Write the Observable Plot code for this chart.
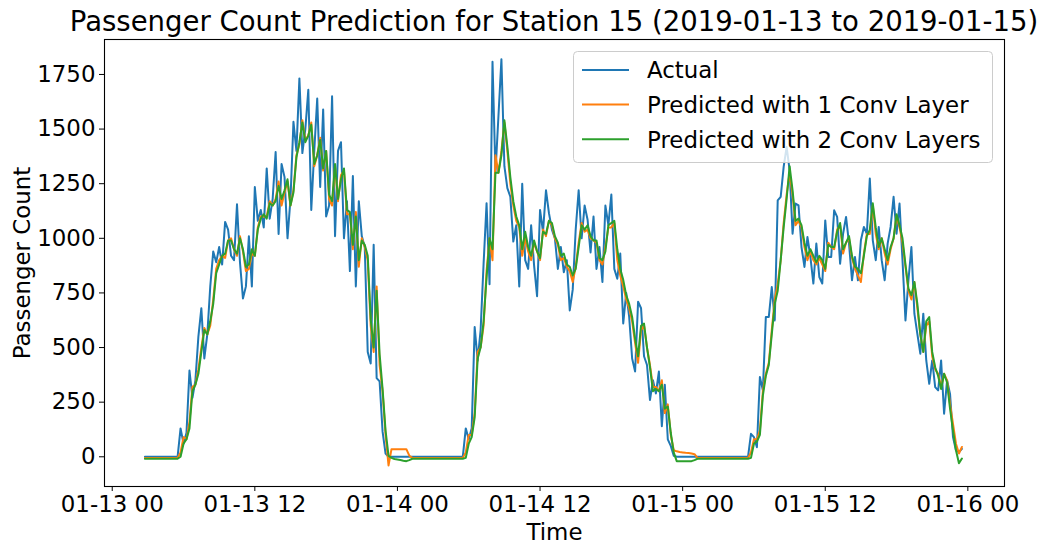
<!DOCTYPE html>
<html>
<head>
<meta charset="utf-8">
<script src="https://cdn.jsdelivr.net/npm/d3@7"></script>
<script src="https://cdn.jsdelivr.net/npm/@observablehq/plot@0.6"></script>
<style>
html, body { margin: 0; padding: 0; background: #fff; }
#chart { width: 1043px; height: 543px; }
</style>
</head>
<body>
<div id="chart"></div>
<script>
// ---- data (15-minute samples starting 2019-01-13 02:45 UTC) ----
const startTime = "2019-01-13T02:45:00Z";
const stepMinutes = 15;

const titleText = "Passenger Count Prediction for Station 15 (2019-01-13 to 2019-01-15)";
const seriesNames = ["Actual", "Predicted with 1 Conv Layer", "Predicted with 2 Conv Layers"];
const seriesColors = ["#1f77b4", "#ff7f0e", "#2ca02c"];
const yTicks = [0, 250, 500, 750, 1000, 1250, 1500, 1750];
const xTicks = ["2019-01-13T00:00Z", "2019-01-13T12:00Z", "2019-01-14T00:00Z", "2019-01-14T12:00Z",
                "2019-01-15T00:00Z", "2019-01-15T12:00Z", "2019-01-16T00:00Z"];
const xDomain = ["2019-01-12T23:21:00Z", "2019-01-16T03:05:00Z"];
const yDomain = [-136, 1910];

const actual = [
  0,0,0,0,0,0,0,0,0,0,0,0,
  130,60,110,395,270,350,550,680,450,560,780,940,890,960,880,1075,1040,920,900,1156,
  890,725,780,1010,780,1235,1080,1130,1050,1320,1090,1180,1395,1020,1340,1280,1000,1180,1533,1400,
  1732,1390,1500,1680,1130,1400,1640,1235,1590,1100,1150,1650,1010,1400,1440,1000,1170,850,1285,780,
  1170,1010,960,480,427,970,360,345,115,15,
  0,0,0,0,0,0,0,0,0,0,0,0,0,0,0,0,0,0,0,0,0,0,0,0,0,0,
  130,80,130,594,440,580,884,1160,790,1808,1300,1560,1820,1330,1230,1190,985,1060,780,1250,
  900,860,1060,875,735,1130,1030,1220,1115,1040,1000,860,960,845,900,670,765,1040,1220,1000,
  1150,1085,935,1100,860,960,800,1150,1060,1200,860,815,930,610,750,640,450,390,710,680,
  460,420,260,350,290,390,140,330,80,50,5,
  0,0,0,0,0,0,0,0,0,0,0,0,0,0,0,0,0,0,0,0,0,0,0,0,0,
  105,90,44,365,304,640,640,777,624,1174,1190,1327,1418,1312,1021,1159,1151,960,869,1006,
  915,793,976,823,793,1082,915,915,1128,1098,884,1021,1098,976,808,915,808,991,1052,1021,
  1274,991,900,1052,900,808,976,1052,1190,1021,1159,900,624,808,960,655,563,472,655,441,
  334,441,319,304,441,197,350,288,90,29,21,36
];

const pred1 = [
  -5,-5,-5,-5,-5,-5,-5,-5,-5,-5,-5,-5,
  20,90,80,160,320,330,400,500,590,560,600,720,860,900,920,910,990,1000,950,920,
  1010,940,850,860,930,920,1050,1100,1100,1100,1170,1150,1180,1260,1150,1210,1260,1150,1220,1380,
  1430,1540,1450,1470,1530,1330,1380,1460,1310,1400,1180,1150,1330,1170,1290,1310,1110,1110,950,1120,
  870,1000,960,900,600,480,780,420,300,100,
  -40,35,35,35,35,35,35,5,-5,-5,-5,-5,-5,-5,-5,-5,-5,-5,-5,-5,-5,-5,-5,-5,-5,-5,
  20,100,100,200,480,500,600,850,1000,900,1380,1300,1400,1530,1400,1250,1150,1080,1050,920,
  1000,940,900,980,940,900,1040,1010,1080,1060,1000,970,900,910,870,850,800,870,980,1070,
  1030,1040,1000,990,980,900,880,960,1050,1050,1070,900,830,780,720,680,620,520,430,580,
  600,500,420,320,320,300,350,200,240,100,30,
  25,22,20,18,17,15,12,-5,-5,-5,-5,-5,-5,-5,-5,-5,-5,-5,-5,-5,-5,-5,-5,-5,-5,
  20,80,80,120,300,380,430,580,720,790,900,1070,1200,1300,1200,1060,1080,1050,960,900,
  940,900,880,910,880,850,980,960,950,1040,1060,930,980,1000,910,860,830,800,930,1020,
  1020,1150,1020,950,1000,930,880,950,1000,1100,1050,980,870,760,720,800,680,560,480,600,
  620,460,400,380,320,380,350,240,150,60,15,45
];

const pred2 = [
  -9,-9,-9,-9,-9,-9,-9,-9,-9,-9,-9,-9,
  0,60,80,130,300,330,380,480,580,560,620,700,840,880,920,930,990,990,950,930,
  1000,950,870,880,950,920,1040,1090,1110,1090,1160,1150,1170,1240,1180,1220,1270,1150,1210,1370,
  1440,1530,1440,1470,1520,1340,1380,1450,1320,1400,1200,1170,1340,1180,1270,1320,1130,1120,970,1100,
  900,990,970,920,630,500,760,470,310,120,
  5,-5,-10,-12,-15,-18,-20,-15,-9,-9,-9,-9,-9,-9,-9,-9,-9,-9,-9,-9,-9,-9,-9,-9,-9,-9,
  -5,60,90,180,450,500,620,820,1000,950,1300,1300,1380,1540,1420,1280,1170,1100,1060,950,
  1030,960,920,990,940,910,1030,1020,1080,1070,1010,980,920,930,880,870,830,860,960,1060,
  1040,1060,1010,990,990,910,900,940,1060,1070,1080,950,860,810,740,700,640,540,460,600,
  610,500,410,300,310,300,330,220,230,110,20,
  -20,-20,-20,-20,-20,-20,-15,-9,-9,-9,-9,-9,-9,-9,-9,-9,-9,-9,-9,-9,-9,-9,-9,-9,-9,
  -5,60,70,100,280,370,420,560,700,760,900,1050,1180,1330,1220,1080,1090,1060,980,920,
  950,920,890,920,900,860,970,960,960,1030,1070,950,980,1010,920,870,860,840,920,1010,
  1040,1160,1050,960,1000,950,900,960,1000,1110,1060,1000,880,770,740,800,700,560,480,620,
  640,480,410,370,310,380,340,220,120,30,-30,-8
];

// ---- build table ----
const t0 = Date.parse(startTime);
const rows = actual.map((v, i) => ({
  t: new Date(t0 + i * stepMinutes * 60000),
  actual: v,
  pred1: pred1[i],
  pred2: pred2[i]
}));
const keys = ["actual", "pred1", "pred2"];

const FONT = "DejaVu Sans";
const FS = 22.9;

const chart = Plot.plot({
  width: 1043,
  height: 543,
  marginLeft: 104,
  marginRight: 39,
  marginTop: 39,
  marginBottom: 57,
  style: { fontFamily: FONT, fontSize: FS + "px", color: "black", background: "white", overflow: "visible" },
  x: {
    type: "utc",
    domain: xDomain.map(d => new Date(d)),
    ticks: xTicks.map(d => new Date(d)),
    tickFormat: d3.utcFormat("%m-%d %H"),
    tickSize: 5,
    tickPadding: 4,
    label: null
  },
  y: {
    domain: yDomain,
    ticks: yTicks,
    tickFormat: d => String(d),
    tickSize: 5,
    tickPadding: 4,
    label: null
  },
  marks: [
    ...keys.map((k, j) => Plot.line(rows, { x: "t", y: k, stroke: seriesColors[j], strokeWidth: 2 })),
    Plot.frame({ stroke: "black", strokeWidth: 1.1 }),
    Plot.text(["Passenger Count"], { frameAnchor: "left", text: d => d, rotate: -90, dx: -82,
      textAnchor: "middle", lineAnchor: "middle", fontSize: FS, fill: "black" }),
    Plot.text(["Time"], { frameAnchor: "bottom", text: d => d, dy: 46,
      textAnchor: "middle", lineAnchor: "middle", fontSize: FS, fill: "black" })
  ]
});

const svg = d3.select(chart);
// title
svg.append("text")
  .attr("x", 554).attr("y", 31)
  .attr("text-anchor", "middle")
  .attr("font-family", FONT)
  .attr("font-size", 27.5)
  .attr("fill", "black")
  .text(titleText);

// legend
const lg = svg.append("g");
lg.append("rect")
  .attr("x", 573.5).attr("y", 51.5).attr("width", 419).attr("height", 111)
  .attr("rx", 4).attr("fill", "white").attr("fill-opacity", 0.8)
  .attr("stroke", "#cccccc").attr("stroke-width", 1);
seriesNames.forEach((name, k) => {
  const cy = 70 + k * 34.6;
  lg.append("line")
    .attr("x1", 582).attr("x2", 629).attr("y1", cy).attr("y2", cy)
    .attr("stroke", seriesColors[k]).attr("stroke-width", 2);
  lg.append("text")
    .attr("x", 647).attr("y", cy + 8.3)
    .attr("text-anchor", "start")
    .attr("font-family", FONT).attr("font-size", FS).attr("fill", "black")
    .text(name);
});

document.getElementById("chart").appendChild(chart);
</script>
</body>
</html>
